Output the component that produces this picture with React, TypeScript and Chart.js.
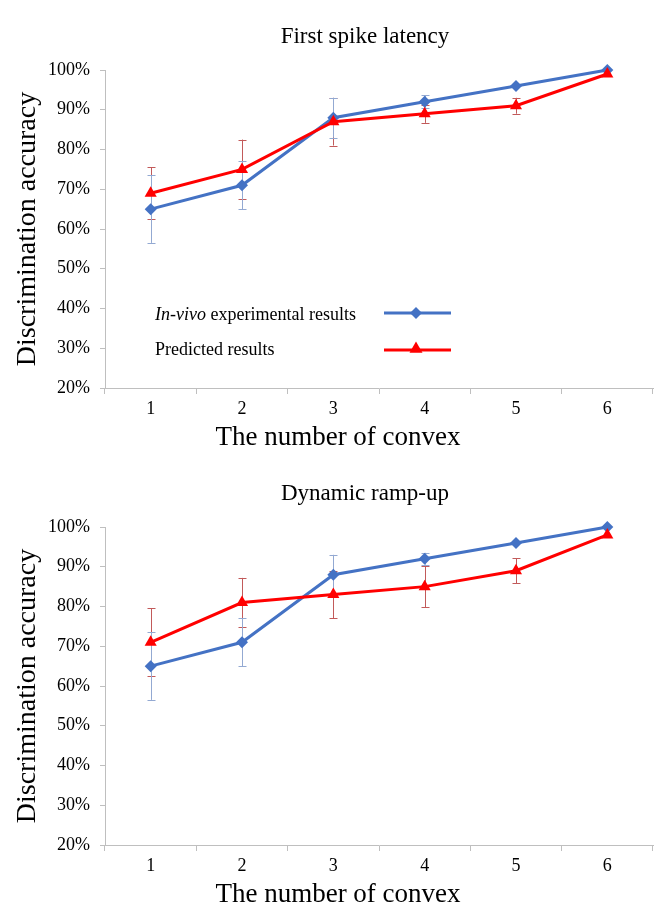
import React, { useEffect, useRef } from 'react';
import { Chart, registerables } from 'chart.js';

Chart.register(...registerables);

// ---- data ----
const categories = ['1', '2', '3', '4', '5', '6'];

const latencyInVivo = [65, 71, 88, 92, 96, 100];
const latencyInVivoErr = [8.5, 6, 5, 1.6, 0, 0];
const latencyPredicted = [69, 75, 87, 89, 91, 99];
const latencyPredictedErr = [6.5, 7.5, 6, 2.3, 2, 0];

const rampInVivo = [65, 71, 88, 92, 96, 100];
const rampInVivoErr = [8.5, 6, 5, 1.5, 0, 0];
const rampPredicted = [71, 81, 83, 85, 89, 98];
const rampPredictedErr = [8.5, 6.2, 6, 5.2, 3.2, 0];

const yMin = 20;
const yMax = 100;
const yStep = 10;

const legendLabels = ['In-vivo', ' experimental results', 'Predicted results'];

// ---- style ----
const FONT = "'Liberation Serif', 'Times New Roman', serif";
const BLUE = '#4472C4';
const RED = '#FF0000';
const BLUE_ERR = '#93A9D2';
const RED_ERR = '#C25A5A';
const AXIS = '#BFBFBF';

const errorBarPlugin = {
  id: 'errorBars',
  beforeDatasetsDraw(chart: any) {
    const ctx = chart.ctx;
    const y = chart.scales.y;
    chart.data.datasets.forEach((ds: any, i: number) => {
      const errs = ds.errors;
      if (!errs) return;
      const meta = chart.getDatasetMeta(i);
      ctx.save();
      ctx.strokeStyle = ds.errorColor;
      ctx.lineWidth = 1;
      meta.data.forEach((pt: any, j: number) => {
        const e = errs[j];
        if (!e) return;
        const v = ds.data[j];
        const yt = y.getPixelForValue(v + e);
        const yb = y.getPixelForValue(v - e);
        const x = Math.round(pt.x) + 0.5;
        ctx.beginPath();
        ctx.moveTo(x, yt);
        ctx.lineTo(x, yb);
        ctx.moveTo(x - 4, Math.round(yt) + 0.5);
        ctx.lineTo(x + 4, Math.round(yt) + 0.5);
        ctx.moveTo(x - 4, Math.round(yb) + 0.5);
        ctx.lineTo(x + 4, Math.round(yb) + 0.5);
        ctx.stroke();
      });
      ctx.restore();
    });
  },
};

const figureTextPlugin = {
  id: 'figureText',
  afterDraw(chart: any, _args: any, opts: any) {
    const ctx = chart.ctx;
    const a = chart.chartArea;
    const cx = (a.left + a.right) / 2;
    ctx.save();
    ctx.fillStyle = '#000';
    ctx.textAlign = 'center';
    ctx.textBaseline = 'middle';
    ctx.font = `23px ${FONT}`;
    ctx.fillText(opts.title, cx - 14, 37);
    ctx.font = `27px ${FONT}`;
    ctx.fillText(opts.xTitle, cx - 41, a.bottom + 50);
    ctx.restore();
  },
};

function drawDiamond(ctx: any, x: number, y: number, r: number, color: string) {
  ctx.beginPath();
  ctx.moveTo(x, y - r);
  ctx.lineTo(x + r, y);
  ctx.lineTo(x, y + r);
  ctx.lineTo(x - r, y);
  ctx.closePath();
  ctx.fillStyle = color;
  ctx.fill();
}

function drawTriangle(ctx: any, x: number, y: number, r: number, color: string) {
  ctx.beginPath();
  ctx.moveTo(x, y - r);
  ctx.lineTo(x + r * 0.866, y + r * 0.5);
  ctx.lineTo(x - r * 0.866, y + r * 0.5);
  ctx.closePath();
  ctx.fillStyle = color;
  ctx.fill();
}

const figureLegendPlugin = {
  id: 'figureLegend',
  afterDatasetsDraw(chart: any, _args: any, opts: any) {
    if (!opts.display) return;
    const ctx = chart.ctx;
    const a = chart.chartArea;
    const tx = a.left + 50;
    const y1 = a.top + 245;
    const y2 = a.top + 280;
    const lx1 = a.left + 279;
    const lx2 = a.left + 346;
    const mx = a.left + 311;
    ctx.save();
    ctx.fillStyle = '#000';
    ctx.textAlign = 'left';
    ctx.textBaseline = 'middle';
    ctx.font = `italic 18px ${FONT}`;
    ctx.fillText(legendLabels[0], tx, y1);
    const w = ctx.measureText(legendLabels[0]).width;
    ctx.font = `18px ${FONT}`;
    ctx.fillText(legendLabels[1], tx + w, y1);
    ctx.fillText(legendLabels[2], tx, y2);

    ctx.lineWidth = 3;
    ctx.strokeStyle = BLUE;
    ctx.beginPath();
    ctx.moveTo(lx1, y1 - 2);
    ctx.lineTo(lx2, y1 - 2);
    ctx.stroke();
    drawDiamond(ctx, mx, y1 - 2, 6, BLUE);

    ctx.strokeStyle = RED;
    ctx.beginPath();
    ctx.moveTo(lx1, y2);
    ctx.lineTo(lx2, y2);
    ctx.stroke();
    drawTriangle(ctx, mx, y2 - 1, 7.5, RED);
    ctx.restore();
  },
};

function makeConfig(
  title: string,
  inVivo: number[],
  inVivoErr: number[],
  pred: number[],
  predErr: number[],
  showLegend: boolean,
  xAxisHeight: number
): any {
  return {
    type: 'line',
    data: {
      labels: categories,
      datasets: [
        {
          label: 'Predicted results',
          data: pred,
          errors: predErr,
          errorColor: RED_ERR,
          borderColor: RED,
          backgroundColor: RED,
          borderWidth: 3,
          pointStyle: 'triangle',
          pointRadius: 7,
          pointBorderWidth: 0,
          tension: 0,
          clip: false,
        },
        {
          label: 'In-vivo experimental results',
          data: inVivo,
          errors: inVivoErr,
          errorColor: BLUE_ERR,
          borderColor: BLUE,
          backgroundColor: BLUE,
          borderWidth: 3,
          pointStyle: 'rectRot',
          pointRadius: 6,
          pointBorderWidth: 0,
          tension: 0,
          clip: false,
        },
      ],
    },
    options: {
      animation: false,
      responsive: false,
      devicePixelRatio: 1,
      layout: { padding: { top: 70, right: 2, left: 0, bottom: 0 } },
      plugins: {
        legend: { display: false },
        tooltip: { enabled: false },
        title: { display: false },
        figureText: { title, xTitle: 'The number of convex' },
        figureLegend: { display: showLegend },
      },
      scales: {
        x: {
          type: 'category',
          offset: true,
          grid: {
            offset: true,
            drawOnChartArea: false,
            drawTicks: true,
            tickLength: 6,
            color: AXIS,
          },
          border: { display: true, color: AXIS, width: 1 },
          ticks: {
            color: '#000',
            font: { family: FONT, size: 18 },
            padding: 4,
            maxRotation: 0,
          },
          afterFit: (s: any) => {
            s.height = xAxisHeight;
          },
        },
        y: {
          min: yMin,
          max: yMax,
          grid: {
            drawOnChartArea: false,
            drawTicks: true,
            tickLength: 5,
            color: AXIS,
          },
          border: { display: true, color: AXIS, width: 1 },
          ticks: {
            stepSize: yStep,
            color: '#000',
            font: { family: FONT, size: 18 },
            padding: 10,
            callback: (v: any) => `${v}%`,
          },
          title: {
            display: true,
            text: 'Discrimination accuracy',
            color: '#000',
            font: { family: FONT, size: 28 },
            padding: { top: 11, bottom: 0 },
          },
          afterFit: (s: any) => {
            s.width = 105;
          },
        },
      },
    },
    plugins: [errorBarPlugin, figureTextPlugin, figureLegendPlugin],
  };
}

function ChartCanvas({ config, height }: { config: any; height: number }) {
  const ref = useRef<HTMLCanvasElement | null>(null);
  useEffect(() => {
    if (!ref.current) return;
    const chart = new Chart(ref.current, config);
    return () => chart.destroy();
  }, [config]);
  return (
    <canvas
      ref={ref}
      width={660}
      height={height}
      style={{ display: 'block', width: 660, height }}
    />
  );
}

const topConfig = makeConfig(
  'First spike latency',
  latencyInVivo,
  latencyInVivoErr,
  latencyPredicted,
  latencyPredictedErr,
  true,
  69
);
const bottomConfig = makeConfig(
  'Dynamic ramp-up',
  rampInVivo,
  rampInVivoErr,
  rampPredicted,
  rampPredictedErr,
  false,
  62
);

export default function App() {
  return (
    <div
      style={{
        position: 'absolute',
        left: 0,
        top: 0,
        width: 660,
        height: 907,
        background: '#fff',
      }}
    >
      <ChartCanvas config={topConfig} height={457} />
      <ChartCanvas config={bottomConfig} height={450} />
    </div>
  );
}
